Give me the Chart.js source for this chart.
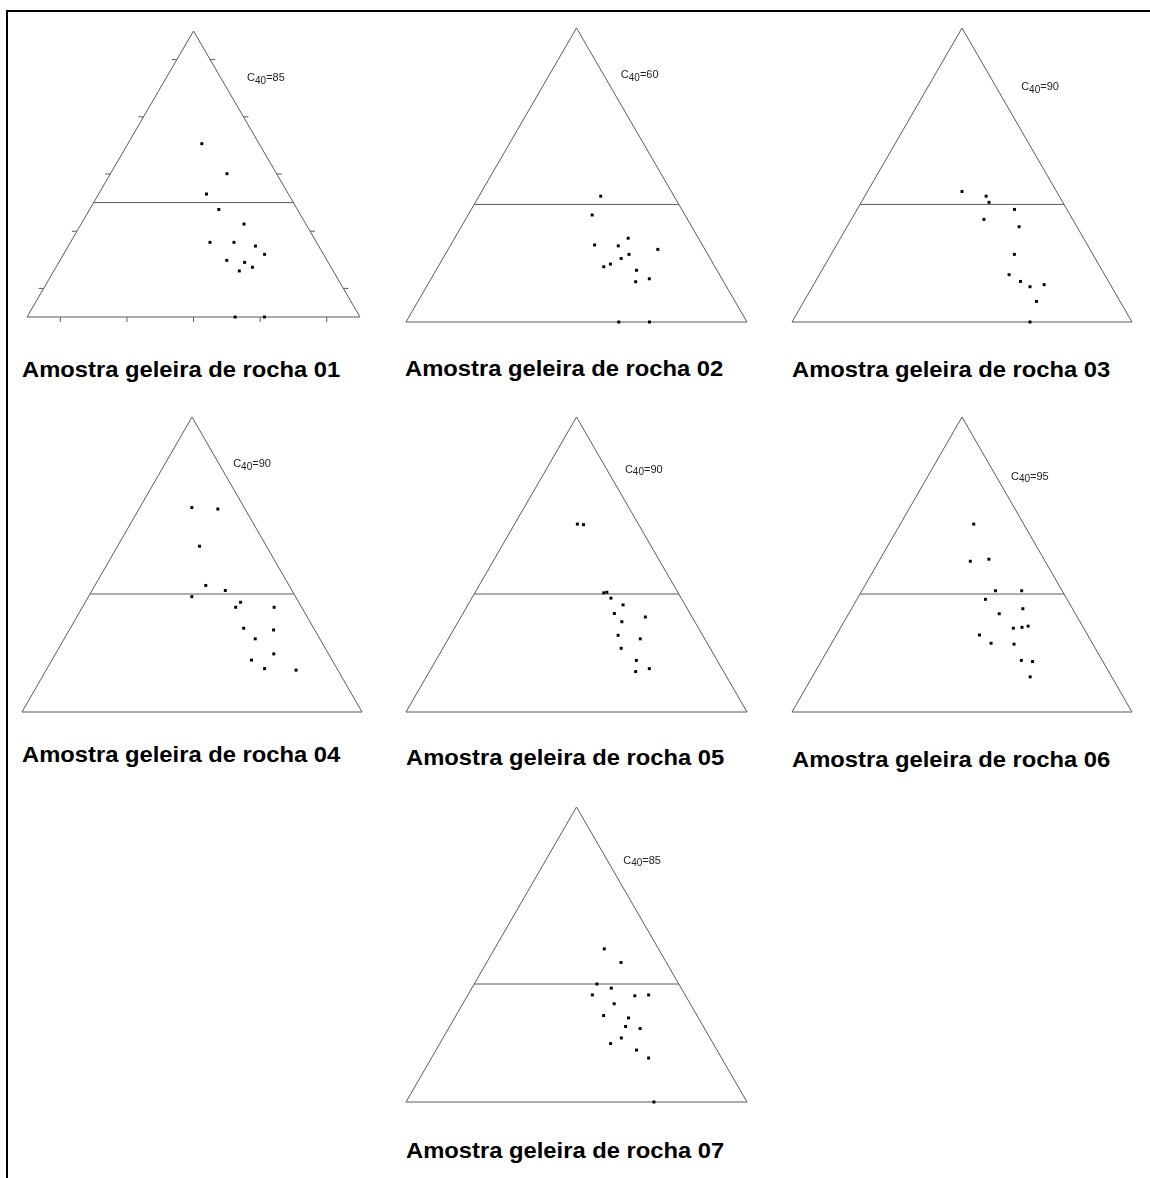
<!DOCTYPE html>
<html>
<head>
<meta charset="utf-8">
<script src="https://cdn.jsdelivr.net/npm/chart.js@4.4.1/dist/chart.umd.min.js"></script>
<style>
  html, body { margin: 0; padding: 0; background: #fff; width: 1150px; height: 1178px; overflow: hidden; position: relative; }
  #frame { position: absolute; left: 6px; top: 10px; width: 1130px; height: 1166px; border-top: 2px solid #000; border-left: 2px solid #000; }
  #frameTail { position: absolute; left: 1136px; top: 10px; width: 14px; height: 2px; background: #000; }
  canvas { position: absolute; }
  .title { position: absolute; font: bold 22px "Liberation Sans", Arial, sans-serif; line-height: 20px; white-space: nowrap; color: #000;
           transform: scaleX(1.08); transform-origin: 0 0; }
</style>
</head>
<body>
<div id="frame"></div>
<div id="frameTail"></div>
<script>
// Ternary compositions per sample: each pair is [top component %, right component %];
// the left component is the remainder to 100 %.
const sample01 = [[60.6,22.2],[50.1,35.0],[43.0,32.4],[37.6,38.8],[32.5,48.9],[26.1,41.9],[26.1,49.1],[24.8,56.2],[21.9,60.4],[19.8,50.1],[19.1,55.8],[17.4,59.0],[16.1,55.7],[0,62.5],[0,71.3]];
const sample02 = [[42.8,35.7],[36.4,36.4],[28.5,50.9],[26.2,42.2],[25.9,49.3],[24.7,61.5],[23.0,53.9],[21.6,52.3],[19.7,50.1],[18.8,48.6],[17.6,58.8],[14.7,64.0],[13.7,60.5],[0,62.4],[0,71.4]];
const sample03 = [[44.4,27.8],[42.8,35.7],[40.7,37.6],[38.3,46.3],[34.9,39.0],[32.4,50.6],[23.0,53.9],[16.1,55.8],[13.8,60.3],[12.0,64.0],[12.7,67.8],[7.0,68.4],[0,70.0]];
const sample04 = [[69.3,15.3],[68.8,23.2],[56.2,24.1],[42.9,32.6],[41.2,39.2],[39.1,30.4],[37.2,45.7],[35.5,45.1],[35.5,56.4],[28.4,51.0],[27.8,60.1],[24.8,56.2],[19.7,64.2],[17.6,58.7],[14.7,64.0],[14.2,73.5]];
const sample05 = [[63.7,18.4],[63.5,20.3],[40.4,37.8],[40.6,38.6],[38.6,40.8],[36.3,45.5],[33.4,44.4],[32.2,54.1],[30.6,48.0],[26.0,49.2],[24.8,56.3],[21.6,52.3],[17.5,58.8],[13.7,60.5],[14.7,64.0]];
const sample06 = [[63.7,21.6],[51.1,26.9],[51.8,32.0],[41.1,39.3],[41.1,47.0],[38.2,37.8],[35.0,50.4],[33.3,44.3],[28.4,50.9],[28.7,53.3],[29.1,54.9],[26.1,42.1],[23.3,46.9],[23.0,53.8],[17.5,58.7],[17.1,62.2],[11.9,64.1]];
const sample07 = [[51.9,32.2],[47.3,39.4],[40.0,36.0],[38.6,40.9],[36.3,36.5],[36.0,49.1],[36.3,53.0],[33.3,44.4],[29.3,43.3],[28.5,51.0],[25.6,51.6],[24.9,56.2],[21.7,52.3],[19.8,50.1],[17.6,58.8],[14.9,63.7],[0,72.7]];

const samples = [sample01, sample02, sample03, sample04, sample05, sample06, sample07];
const sampleNames = ['Amostra geleira de rocha 01','Amostra geleira de rocha 02','Amostra geleira de rocha 03',
                     'Amostra geleira de rocha 04','Amostra geleira de rocha 05','Amostra geleira de rocha 06',
                     'Amostra geleira de rocha 07'];
const c40Values = [85, 60, 90, 90, 90, 95, 85];
const splitLevel = 40;                   // horizontal divider, top component %
const tickLevels = [10, 30, 50, 70, 90]; // axis ticks on the first diagram

// Page placement of each diagram (canvas box, caption baseline, C40 label in plot units)
const PAD = 12;
const panels = [
  { left: 15,  top: 19,  w: 357, h: 310, ticks: true,  tx: 22,  tb: 378,  lx: 0.661, ly: 0.838 },
  { left: 394, top: 16,  w: 365, h: 318, ticks: false, tx: 405, tb: 377,  lx: 0.630, ly: 0.843 },
  { left: 780, top: 16,  w: 364, h: 318, ticks: false, tx: 792, tb: 378,  lx: 0.674, ly: 0.802 },
  { left: 10,  top: 405, w: 364, h: 319, ticks: false, tx: 22,  tb: 763,  lx: 0.621, ly: 0.844 },
  { left: 394, top: 405, w: 365, h: 319, ticks: false, tx: 406, tb: 766,  lx: 0.642, ly: 0.824 },
  { left: 780, top: 405, w: 364, h: 319, ticks: false, tx: 792, tb: 768,  lx: 0.644, ly: 0.801 },
  { left: 394, top: 795, w: 365, h: 319, ticks: false, tx: 406, tb: 1159, lx: 0.637, ly: 0.821 }
];

// ternary (top %, right %) -> plot units (x along base 0..1, y height 0..1)
function toXY(top, right) {
  return { x: (right + top / 2) / 100, y: top / 100 };
}

const LINE_COLOR = '#5a5a5a';

const decorPlugin = {
  id: 'decor',
  afterDatasetsDraw(chart, args, opts) {
    const ctx = chart.ctx;
    const xs = chart.scales.x, ys = chart.scales.y;
    const px = p => ({ x: xs.getPixelForValue(p.x), y: ys.getPixelForValue(p.y) });
    ctx.save();
    if (opts.ticks) {
      ctx.strokeStyle = LINE_COLOR;
      ctx.lineWidth = 1;
      ctx.beginPath();
      tickLevels.forEach(t => {
        const b = px(toXY(0, t));
        ctx.moveTo(b.x, b.y); ctx.lineTo(b.x, b.y + 5);
        const l = px(toXY(t, 0));
        ctx.moveTo(l.x, l.y); ctx.lineTo(l.x - 5, l.y);
        const r = px(toXY(t, 100 - t));
        ctx.moveTo(r.x, r.y); ctx.lineTo(r.x + 5, r.y);
      });
      ctx.stroke();
    }
    // "C40=nn" label with subscript
    const x0 = xs.getPixelForValue(opts.lx);
    const yb = ys.getPixelForValue(opts.ly) + 4;
    ctx.fillStyle = '#222';
    ctx.textBaseline = 'alphabetic';
    ctx.textAlign = 'left';
    ctx.font = '11px "Liberation Sans", Arial, sans-serif';
    ctx.fillText('C', x0, yb);
    let x = x0 + ctx.measureText('C').width;
    ctx.font = '10px "Liberation Sans", Arial, sans-serif';
    ctx.fillText('40', x, yb + 2.5);
    x += ctx.measureText('40').width;
    ctx.font = '11px "Liberation Sans", Arial, sans-serif';
    ctx.fillText('=' + opts.value, x, yb);
    ctx.restore();
  }
};

panels.forEach((p, i) => {
  const cv = document.createElement('canvas');
  cv.width = p.w; cv.height = p.h;
  cv.style.left = p.left + 'px'; cv.style.top = p.top + 'px';
  cv.style.width = p.w + 'px'; cv.style.height = p.h + 'px';
  document.body.appendChild(cv);

  const title = document.createElement('div');
  title.className = 'title';
  title.style.left = p.tx + 'px';
  title.style.top = (p.tb - 18.5) + 'px';
  title.textContent = sampleNames[i];
  document.body.appendChild(title);

  new Chart(cv, {
    type: 'scatter',
    data: {
      datasets: [
        { data: [toXY(0, 0), toXY(0, 100), toXY(100, 0), toXY(0, 0)],
          showLine: true, borderColor: LINE_COLOR, borderWidth: 1, pointRadius: 0, clip: false, order: 3 },
        { data: [toXY(splitLevel, 0), toXY(splitLevel, 100 - splitLevel)],
          showLine: true, borderColor: LINE_COLOR, borderWidth: 1, pointRadius: 0, clip: false, order: 2 },
        { data: samples[i].map(s => toXY(s[0], s[1])),
          pointStyle: 'rect', pointRadius: 2.1, backgroundColor: '#000', borderWidth: 0, clip: false, order: 1 }
      ]
    },
    options: {
      responsive: false,
      animation: false,
      devicePixelRatio: 1,
      events: [],
      layout: { padding: PAD },
      scales: {
        x: { type: 'linear', min: 0, max: 1, display: false },
        y: { type: 'linear', min: 0, max: 1, display: false }
      },
      plugins: {
        legend: { display: false },
        tooltip: { enabled: false },
        decor: { ticks: p.ticks, lx: p.lx, ly: p.ly, value: c40Values[i] }
      }
    },
    plugins: [decorPlugin]
  });
});
</script>
</body>
</html>
